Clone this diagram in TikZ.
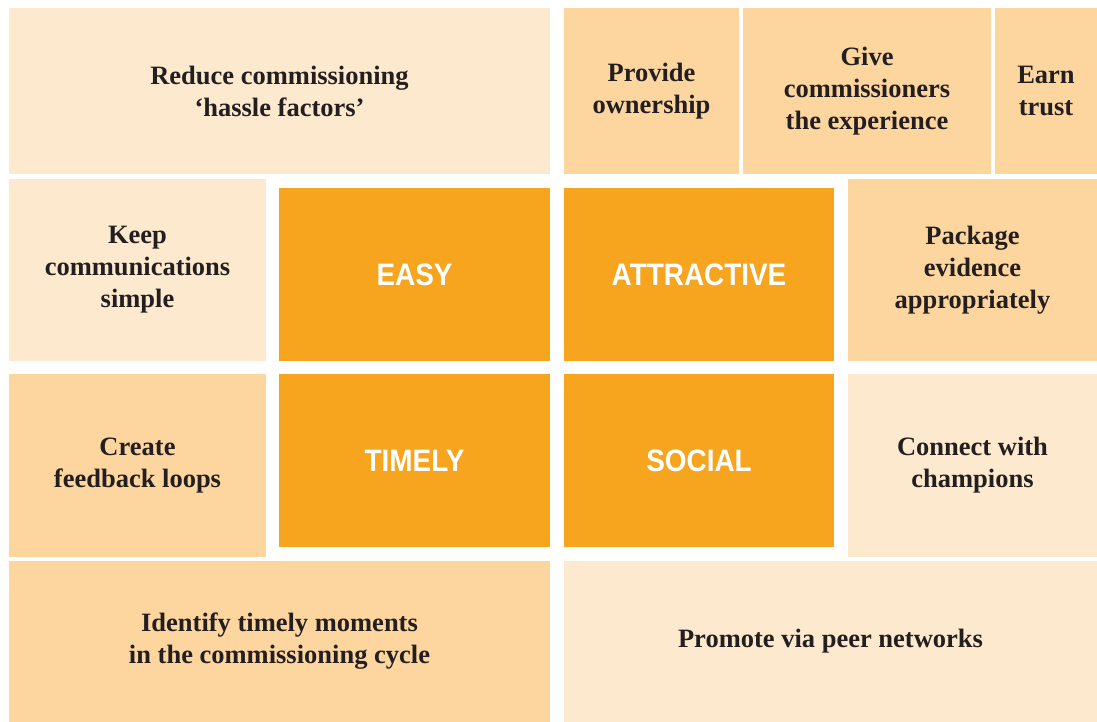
\documentclass[tikz,border=0pt]{standalone}
\usepackage{fontspec}
\setmainfont{Liberation Serif}
\newfontfamily\headfont[FakeStretch=0.9]{Liberation Sans}
\usepackage{tikz}
\usetikzlibrary{positioning}

\definecolor{paleorange}{HTML}{FDE9CE}
\definecolor{midorange}{HTML}{FDD59F}
\definecolor{deeporange}{HTML}{F7A51F}
\definecolor{inkgrey}{HTML}{231F20}

\begin{document}
\begin{tikzpicture}[x=1pt, y=-1pt]
  \tikzstyle{tile}=[draw=none, inner sep=0pt, outer sep=0pt, anchor=north west, align=center,
    text=inkgrey, font=\fontsize{26.5}{32}\selectfont\bfseries]
  \tikzstyle{palebox}=[tile, fill=paleorange]
  \tikzstyle{midbox}=[tile, fill=midorange]
  \tikzstyle{keybox}=[tile, fill=deeporange, text=white, font=\headfont\fontsize{31}{38}\selectfont\bfseries]

  \useasboundingbox (0,0) rectangle (1097,722);

  % top row
  \node (reduce) [palebox, minimum width=541pt, minimum height=166pt] at (9,8) {Reduce commissioning\\`hassle factors'};
  \node (ownership) [midbox, minimum width=175pt, minimum height=166pt] at (564,8) {Provide\\ownership};
  \node (experience) [midbox, minimum width=248pt, minimum height=166pt] at (743,8) {Give\\commissioners\\the experience};
  \node (trust) [midbox, minimum width=102pt, minimum height=166pt] at (995,8) {Earn\\trust};

  % second row
  \node (simple) [palebox, minimum width=257pt, minimum height=182pt] at (9,179) {Keep\\communications\\simple};
  \node (easy) [keybox, minimum width=271pt, minimum height=173pt] at (279,188) {EASY};
  \node (attractive) [keybox, minimum width=270pt, minimum height=173pt] at (564,188) {ATTRACTIVE};
  \node (evidence) [midbox, minimum width=249pt, minimum height=182pt] at (848,179) {Package\\evidence\\appropriately};

  % third row
  \node (feedback) [midbox, minimum width=257pt, minimum height=183pt] at (9,374) {Create\\feedback loops};
  \node (timely) [keybox, minimum width=271pt, minimum height=173pt] at (279,374) {TIMELY};
  \node (social) [keybox, minimum width=270pt, minimum height=173pt] at (564,374) {SOCIAL};
  \node (champions) [palebox, minimum width=249pt, minimum height=183pt] at (848,374) {Connect with\\champions};

  % bottom row
  \node (moments) [midbox, minimum width=541pt, minimum height=161pt] at (9,561) {Identify timely moments\\in the commissioning cycle};
  \node (peers) [palebox, minimum width=533pt, minimum height=161pt] at (564,561) {Promote via peer networks};

\end{tikzpicture}
\end{document}
